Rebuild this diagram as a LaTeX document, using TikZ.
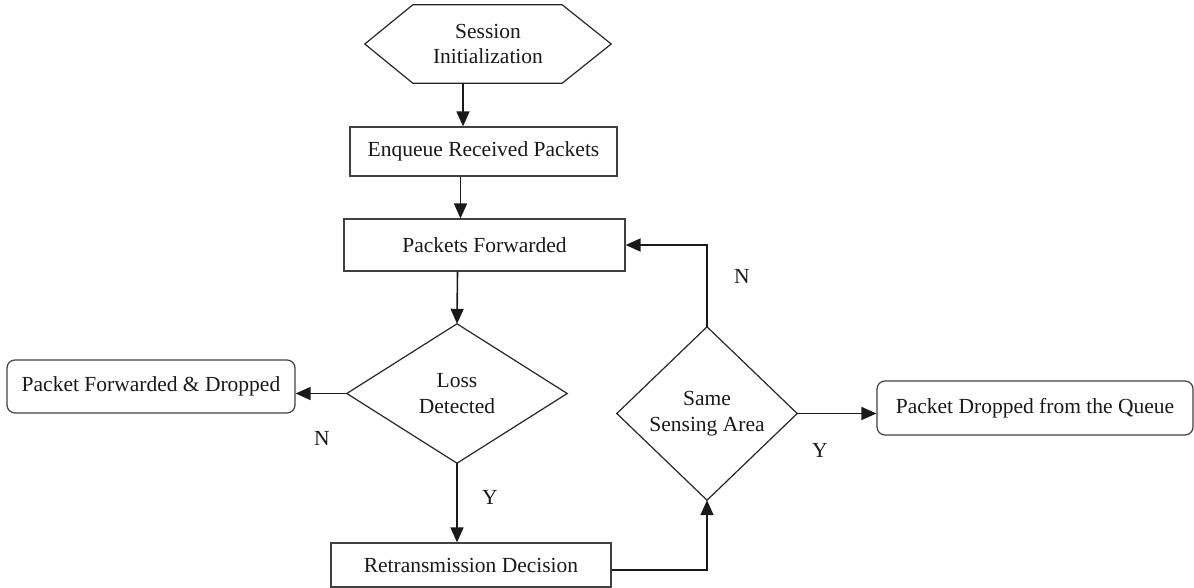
\documentclass[tikz,border=0pt]{standalone}
\usepackage{fontspec}
\setmainfont{Liberation Serif}
\usetikzlibrary{arrows.meta,calc}
\begin{document}
\begin{tikzpicture}[x=1pt,y=-1pt,
  txt/.style={font=\fontsize{21.5}{25.5}\selectfont, text=black!90, inner sep=0pt, align=center},
  boxnode/.style={txt, draw=black!75, line width=1.2pt, rectangle},
  rbox/.style={boxnode, rounded corners=8pt},
  ghost/.style={txt},
  shapeline/.style={draw=black!85, line width=1.2pt},
  arr/.style={draw=black!90, line width=1.6pt, -{Triangle[length=15pt,width=13pt]}},
  lab/.style={font=\fontsize{21.5}{25.5}\selectfont, text=black!90, inner sep=0pt}
]
\useasboundingbox (0,0) rectangle (1194,588);

% nodes
\node[ghost, minimum width=246pt, minimum height=78pt] (init) at (488,44) {Session\\Initialization};
\draw[shapeline] (init.west) -- ([xshift=48pt]init.north west) -- ([xshift=-49pt]init.north east)
  -- (init.east) -- ([xshift=-49pt]init.south east) -- ([xshift=48pt]init.south west) -- cycle;

\node[boxnode, minimum width=267pt, minimum height=49pt] (enq) at (483.5,151.5) {Enqueue Received Packets};
\node[boxnode, minimum width=281pt, minimum height=52pt] (fwd) at (484.5,245) {Packets Forwarded};

\node[ghost, minimum width=220pt, minimum height=139pt] (loss) at (457,393.5) {Loss\\Detected};
\draw[shapeline] (loss.north) -- (loss.east) -- (loss.south) -- (loss.west) -- cycle;

\node[rbox, minimum width=288pt, minimum height=53pt] (left) at (151,386.5) {Packet Forwarded \& Dropped};

\node[boxnode, minimum width=280pt, minimum height=44pt] (retr) at (471,565) {Retransmission Decision};

\node[ghost, minimum width=180pt, minimum height=173pt] (same) at (707,413.5) {Same\\Sensing Area};
\draw[shapeline] (same.north) -- (same.east) -- (same.south) -- (same.west) -- cycle;

\node[rbox, minimum width=316pt, minimum height=54pt] (drop) at (1035,408) {Packet Dropped from the Queue};

% labels
\node[lab] (n1) at (322,438) {N};
\node[lab] (y1) at (490,497) {Y};
\node[lab] (n2) at (742,276) {N};
\node[lab] (y2) at (820,450) {Y};

% connectors
\draw[arr] ([xshift=-25pt]init.south) -- ([xshift=-25pt]init.south |- enq.north);
\draw[arr] ([xshift=-23pt]enq.south) -- ([xshift=-23pt]enq.south |- fwd.north);
\draw[arr] ([xshift=-27pt]fwd.south) -- (loss.north);
\draw[arr] (loss.west) -- (loss.west -| left.east);
\draw[arr] (loss.south) -- (loss.south |- retr.north);
\draw[arr] ([yshift=-5pt]retr.east) -| (same.south);
\draw[arr] (same.north) |- (fwd.east);
\draw[arr] (same.east) -- (same.east -| drop.west);
\end{tikzpicture}
\end{document}
